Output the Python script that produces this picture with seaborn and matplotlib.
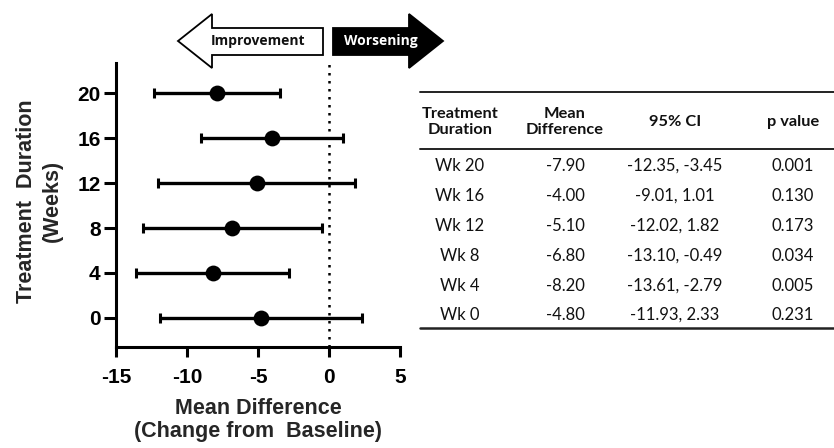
import numpy as np
import pandas as pd
import matplotlib
matplotlib.use("Agg")
import matplotlib.pyplot as plt
from matplotlib.patches import Polygon
from matplotlib.lines import Line2D
import seaborn as sns

# ---------------- data ----------------
weeks = [20, 16, 12, 8, 4, 0]
week_labels = ["Wk 20", "Wk 16", "Wk 12", "Wk 8", "Wk 4", "Wk 0"]
mean_diff = [-7.90, -4.00, -5.10, -6.80, -8.20, -4.80]
ci_low = [-12.35, -9.01, -12.02, -13.10, -13.61, -11.93]
ci_high = [-3.45, 1.01, 1.82, -0.49, -2.79, 2.33]
p_values = ["0.001", "0.130", "0.173", "0.034", "0.005", "0.231"]
x_ticks = [-15, -10, -5, 0, 5]
y_ticks = [0, 4, 8, 12, 16, 20]

df = pd.DataFrame({"week": weeks, "mean": mean_diff, "lo": ci_low, "hi": ci_high})

sns.set_theme(style="ticks")
plt.rcParams["font.family"] = ["Liberation Sans", "DejaVu Sans"]

W, H = 834, 448
fig = plt.figure(figsize=(W / 100, H / 100), dpi=100)

def fx(px):
    return px / W

def fy(py):
    return 1 - py / H

ax = fig.add_axes([fx(116), fy(347), fx(400) - fx(116), fy(63) - fy(347)])

# error bars
xerr = np.vstack([df["mean"] - df["lo"], df["hi"] - df["mean"]])
ax.errorbar(df["mean"], df["week"], xerr=xerr, fmt="none", ecolor="black",
            elinewidth=2.4, capsize=3.5, capthick=2.2, zorder=2)
sns.scatterplot(data=df, x="mean", y="week", ax=ax, color="black", s=130,
                edgecolor="black", linewidth=0, zorder=3, legend=False)
ax.axvline(0, color="black", ls=(0, (1, 2.2)), lw=1.8, zorder=1)

ax.set_xlim(-15, 5)
ax.set_ylim(-2.6, 22.7)
ax.set_xticks(x_ticks)
ax.set_xticklabels([str(v) for v in x_ticks])
ax.set_yticks(y_ticks)
ax.set_yticklabels([str(v) for v in y_ticks])
for s in ["top", "right"]:
    ax.spines[s].set_visible(False)
for s in ["left", "bottom"]:
    ax.spines[s].set_linewidth(2.2)
    ax.spines[s].set_color("black")
ax.tick_params(axis="x", length=7, width=2.2, pad=8, labelsize=15, colors="black")
ax.tick_params(axis="y", length=9, width=2.2, pad=2, labelsize=15, colors="black")
for lab in ax.get_xticklabels() + ax.get_yticklabels():
    lab.set_fontweight("bold")
ax.set_xlabel("")
ax.set_ylabel("")

fig.text(fx(258), fy(420), "Mean Difference\n(Change from  Baseline)", ha="center",
         va="center", fontsize=15.5, fontweight="bold", linespacing=1.1)
fig.text(fx(39), fy(201), "Treatment  Duration\n(Weeks)", ha="center", va="center",
         rotation=90, fontsize=15.5, fontweight="bold", linespacing=1.3)

# ---------------- arrows ----------------
yc = 41
left_arrow = [(178, yc), (212, 14), (212, 28), (323, 28), (323, 55), (212, 55), (212, 68)]
right_arrow = [(333, 28), (409, 28), (409, 14), (443, yc), (409, 68), (409, 55), (333, 55)]
fig.patches.append(Polygon([(fx(a), fy(b)) for a, b in left_arrow], closed=True,
                           transform=fig.transFigure, facecolor="white",
                           edgecolor="black", lw=1.3))
fig.patches.append(Polygon([(fx(a), fy(b)) for a, b in right_arrow], closed=True,
                           transform=fig.transFigure, facecolor="black",
                           edgecolor="black", lw=1.3))
fig.text(fx(258), fy(yc), "Improvement", ha="center", va="center", fontsize=10,
         fontweight="bold", family=["Open Sans", "DejaVu Sans"], color="#111111")
fig.text(fx(381), fy(yc), "Worsening", ha="center", va="center", fontsize=10,
         fontweight="bold", family=["Open Sans", "DejaVu Sans"], color="white")

# ---------------- table ----------------
tfont = ["Lato", "DejaVu Sans"]
col_x = [460, 565, 675, 793]
headers = ["Treatment\nDuration", "Mean\nDifference", "95% CI", "p value"]
for cx, h in zip(col_x, headers):
    fig.text(fx(cx), fy(122), h, ha="center", va="center", fontsize=11.8,
             fontweight="bold", family=tfont, linespacing=1.15, color="#111111")

row_y = [166, 196, 226, 256, 286, 315]
for i, ry in enumerate(row_y):
    vals = [week_labels[i], f"{mean_diff[i]:.2f}",
            f"{ci_low[i]:.2f}, {ci_high[i]:.2f}", p_values[i]]
    for cx, v in zip(col_x, vals):
        fig.text(fx(cx), fy(ry), v, ha="center", va="center", fontsize=12,
                 family=tfont, color="#111111")

for ly, lw in [(92, 1.4), (149, 1.4), (328, 1.8)]:
    fig.lines.append(Line2D([fx(420), fx(834)], [fy(ly), fy(ly)],
                            transform=fig.transFigure, color="#222222", lw=lw))

fig.savefig("out.png", dpi=100)
